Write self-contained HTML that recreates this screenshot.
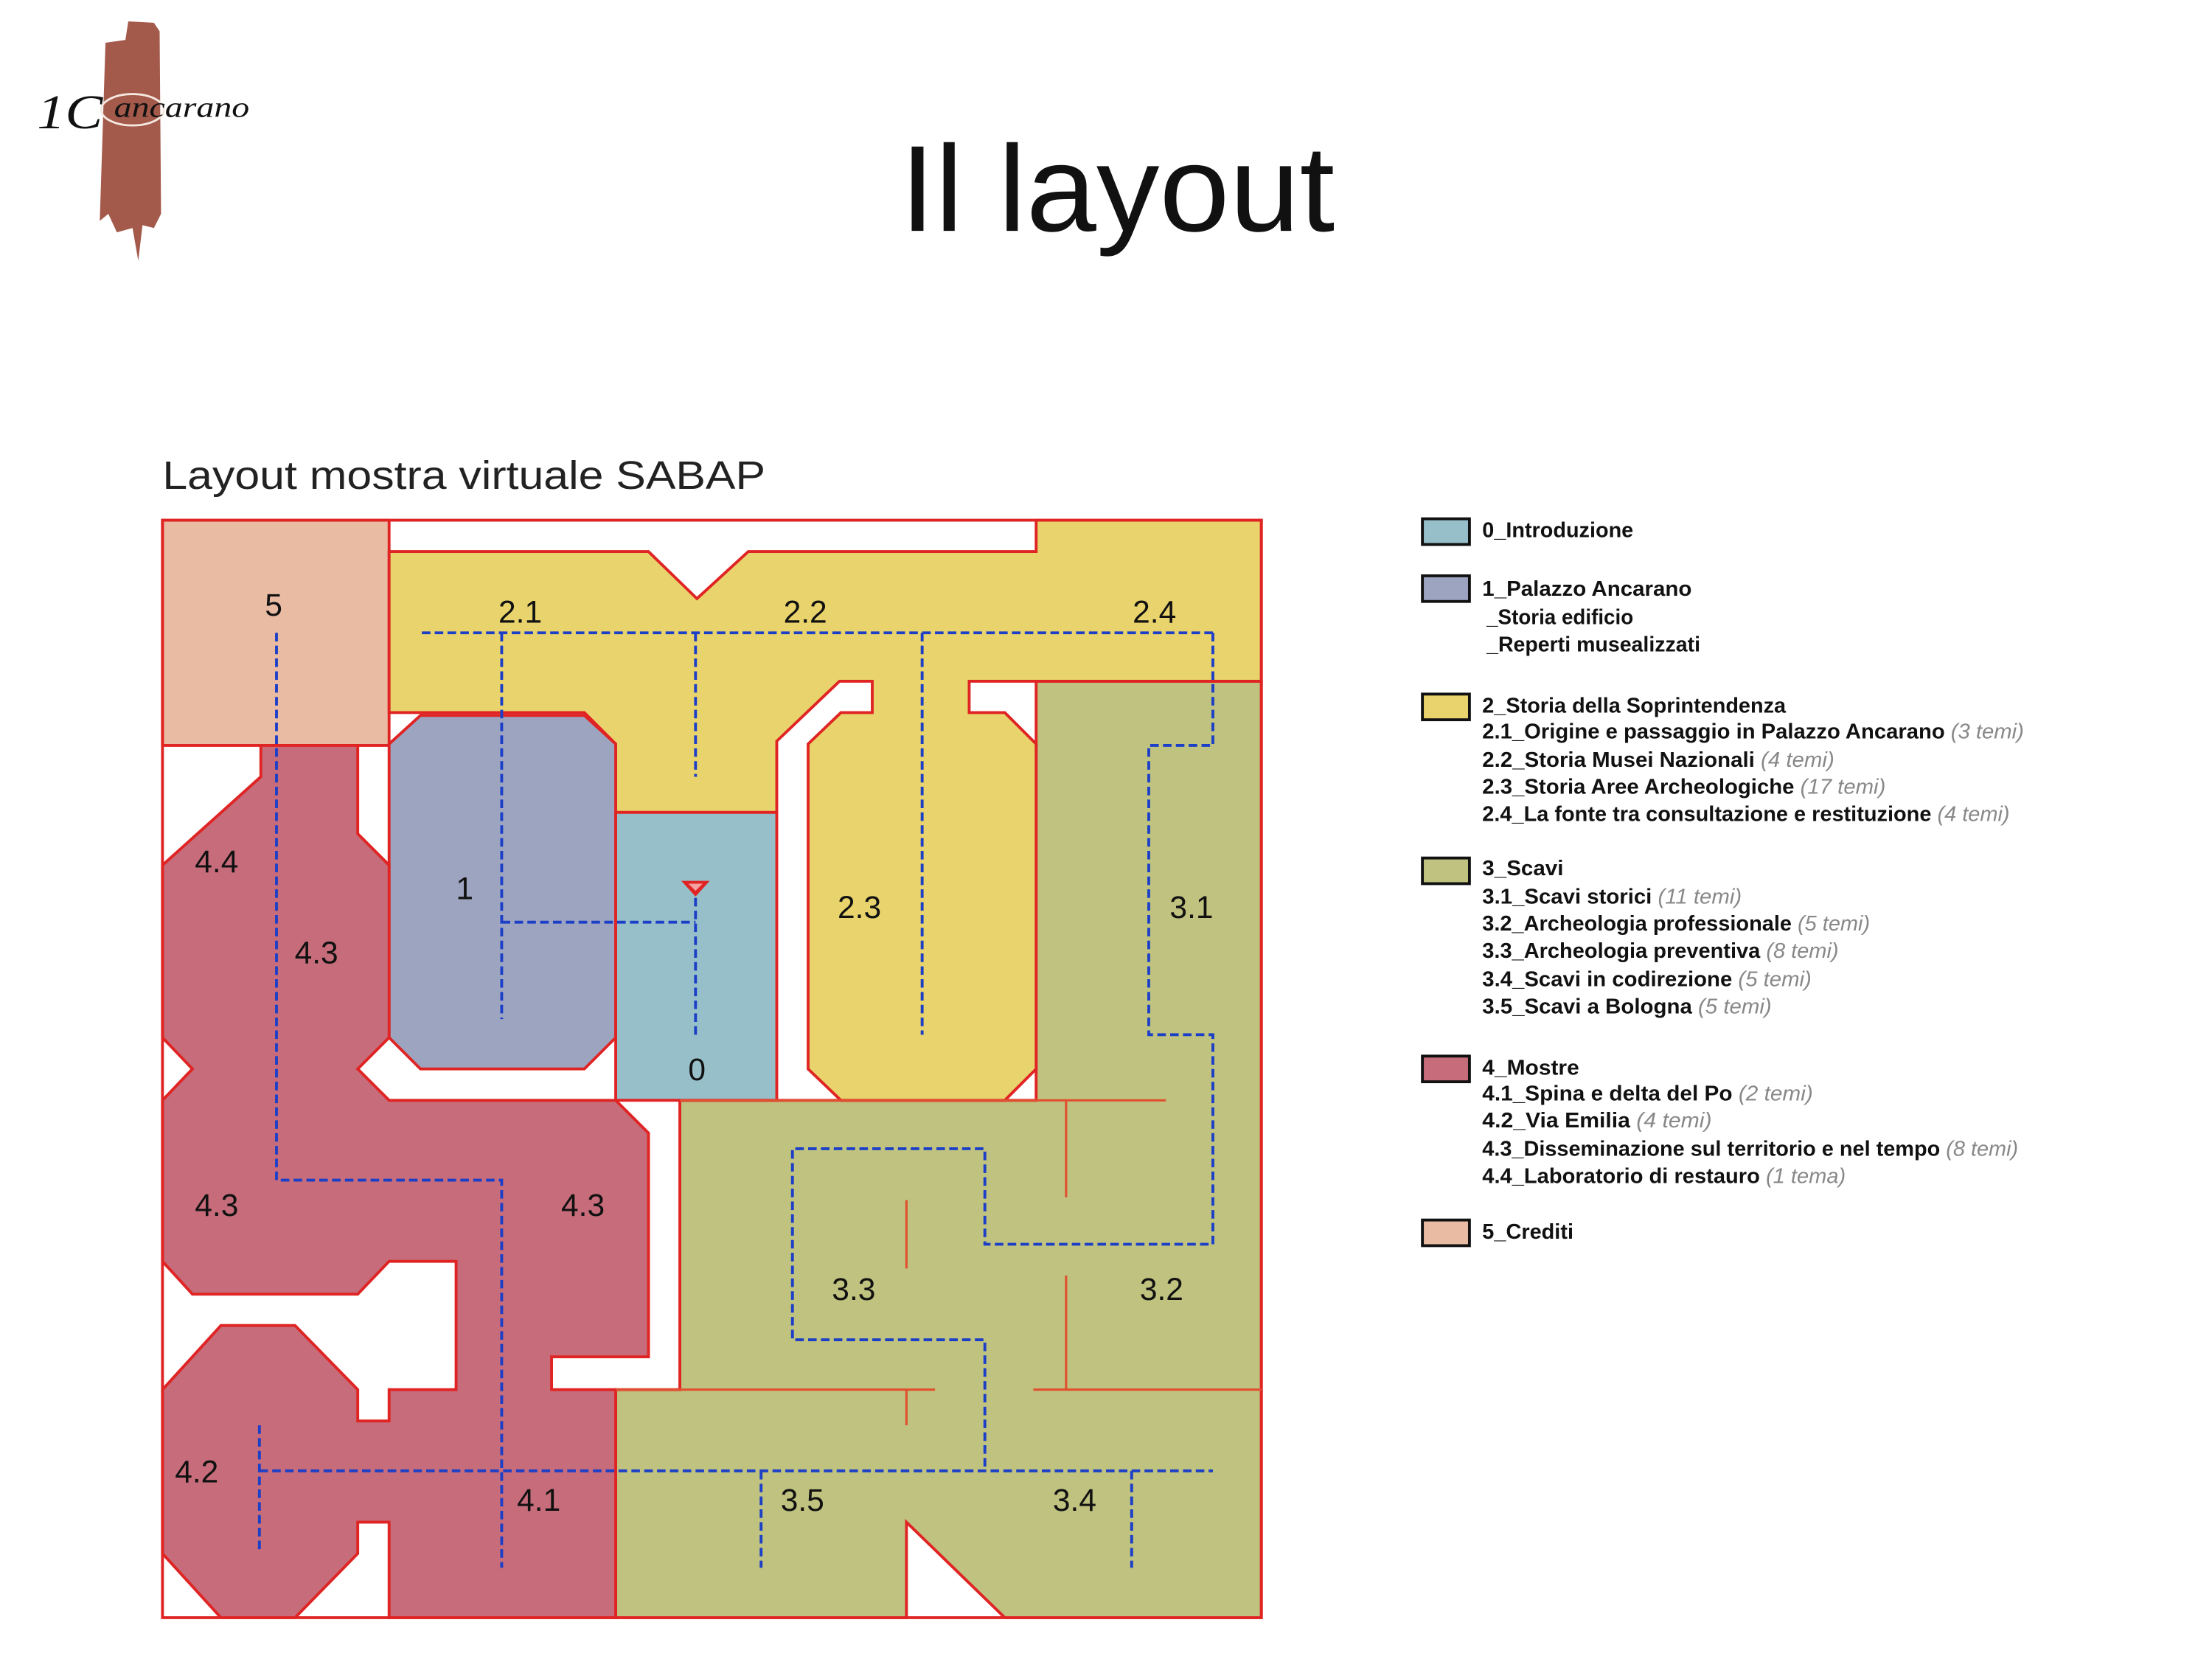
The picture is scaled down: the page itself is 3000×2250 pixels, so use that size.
<!DOCTYPE html>
<html><head><meta charset="utf-8"><style>
html,body{margin:0;padding:0;background:#fff;}
svg{display:block;}
.lbl{font-family:"Liberation Sans",Arial,sans-serif;font-size:22px;fill:#111;text-anchor:middle;}
.lg{font-family:"Liberation Sans",Arial,sans-serif;font-size:15px;fill:#111;font-weight:bold;}
.gr{fill:#888;font-style:italic;font-weight:normal;}
</style></head><body>
<svg width="3000" height="2250" viewBox="0 0 1552 1164" xmlns="http://www.w3.org/2000/svg">
<rect width="1552" height="1164" fill="#fff"/>
<!-- logo -->
<path d="M74,30 L88,28 L90,15 L108,16 L112,22 L113,150 L108,160 L100,158 L97,183 L93,160 L82,163 L76,150 L70,155 Z" fill="#a45a4b"/>
<ellipse cx="93" cy="77" rx="22" ry="11" fill="none" stroke="#f4e8e0" stroke-width="1.5"/>
<text x="26" y="90" font-family="Liberation Serif,serif" font-style="italic" font-size="34" fill="#111" textLength="46" lengthAdjust="spacingAndGlyphs">1C</text>
<text x="80" y="82" font-family="Liberation Serif,serif" font-style="italic" font-size="20" fill="#111" textLength="95" lengthAdjust="spacingAndGlyphs">ancarano</text>
<!-- title -->
<text x="784" y="162" font-family="Liberation Sans,sans-serif" font-size="86" fill="#111" text-anchor="middle" textLength="305" lengthAdjust="spacingAndGlyphs">Il layout</text>
<text x="114" y="343" font-family="Liberation Sans,sans-serif" font-size="28" fill="#222" textLength="423" lengthAdjust="spacingAndGlyphs">Layout mostra virtuale SABAP</text>

<g stroke="#e02424" stroke-width="2" stroke-linejoin="miter">
<rect x="114" y="365" width="159" height="158" fill="#e9bba3"/>
<polygon fill="#c0c27f" points="727,478 885,478 885,1135 705,1135 636,1068 636,1135 432,1135 432,975 477,975 477,772 727,772"/>
<polygon fill="#e8d36c" points="273,387 455,387 489,420 525,387 727,387 727,365 885,365 885,478 680,478 680,500 705,500 727,522 727,750 705,772 590,772 567,750 567,522 590,500 612,500 612,478 589,478 545,520 545,570 432,570 432,522 410,500 273,500"/>
<polygon fill="#9ca4c0" points="295,502 410,502 432,522 432,728 410,750 295,750 273,728 273,522"/>
<rect x="432" y="570" width="113" height="202" fill="#96bfc9"/>
<polygon fill="#c66c7a" points="183,523 251,523 251,585 273,607 273,728 251,750 273,772 432,772 455,795 455,952 387,952 387,975 432,975 432,1135 273,1135 273,1068 251,1068 251,1090 207,1135 155,1135 114,1090 114,975 155,930 207,930 251,975 251,997 273,997 273,975 320,975 320,885 273,885 251,908 135,908 114,885 114,772 135,750 114,728 114,607 183,545"/>
<rect x="114" y="365" width="771" height="770" fill="none"/>
</g>
<!-- internal olive lines -->
<g stroke="#e05030" stroke-width="1.6" fill="none">
<line x1="477" y1="772" x2="818" y2="772"/>
<line x1="748" y1="772" x2="748" y2="840"/>
<line x1="636" y1="842" x2="636" y2="890"/>
<line x1="748" y1="895" x2="748" y2="975"/>
<line x1="432" y1="975" x2="656" y2="975"/>
<line x1="725" y1="975" x2="885" y2="975"/>
<line x1="636" y1="975" x2="636" y2="1000"/>
</g>
<!-- dashed paths -->
<g stroke="#1c3fc8" stroke-width="2" fill="none" stroke-dasharray="6,3">
<line x1="296" y1="444" x2="851" y2="444"/>
<polyline points="851,444 851,523 806,523 806,726 851,726 851,873 691,873 691,806 556,806 556,940 691,940 691,1032"/>
<line x1="182" y1="1032" x2="851" y2="1032"/>
<line x1="352" y1="444" x2="352" y2="715"/>
<line x1="352" y1="647" x2="488" y2="647"/>
<line x1="488" y1="444" x2="488" y2="545"/>
<line x1="488" y1="630" x2="488" y2="726"/>
<line x1="647" y1="444" x2="647" y2="726"/>
<polyline points="194,444 194,828 352,828 352,1100"/>
<line x1="182" y1="1000" x2="182" y2="1090"/>
<line x1="534" y1="1032" x2="534" y2="1100"/>
<line x1="794" y1="1032" x2="794" y2="1100"/>
</g>
<polygon points="478,618 498,618 488,629" fill="#e02424"/>
<polygon points="483,620 493,620 488,625" fill="#f4a0a0"/>
<!-- labels -->
<g class="lbl">
<text x="192" y="432">5</text><text x="365" y="437">2.1</text><text x="565" y="437">2.2</text><text x="810" y="437">2.4</text>
<text x="152" y="612">4.4</text><text x="326" y="631">1</text><text x="222" y="676">4.3</text><text x="603" y="644">2.3</text>
<text x="836" y="644">3.1</text><text x="489" y="758">0</text><text x="152" y="853">4.3</text><text x="409" y="853">4.3</text>
<text x="599" y="912">3.3</text><text x="815" y="912">3.2</text><text x="138" y="1040">4.2</text><text x="378" y="1060">4.1</text>
<text x="563" y="1060">3.5</text><text x="754" y="1060">3.4</text>
</g>
<!-- legend -->
<g stroke="#111" stroke-width="2">
<rect x="998" y="364" width="33" height="18" fill="#96bfc9"/>
<rect x="998" y="404" width="33" height="18" fill="#9ca4c0"/>
<rect x="998" y="487" width="33" height="18" fill="#e8d36c"/>
<rect x="998" y="602" width="33" height="18" fill="#c0c27f"/>
<rect x="998" y="741" width="33" height="18" fill="#c66c7a"/>
<rect x="998" y="856" width="33" height="18" fill="#e9bba3"/>
</g>
<g class="lg">
<text x="1040" y="377" textLength="106" lengthAdjust="spacingAndGlyphs">0_Introduzione</text>
<text x="1040" y="418" textLength="147" lengthAdjust="spacingAndGlyphs">1_Palazzo Ancarano</text>
<text x="1043" y="438" textLength="103" lengthAdjust="spacingAndGlyphs">_Storia edificio</text>
<text x="1043" y="457" textLength="150" lengthAdjust="spacingAndGlyphs">_Reperti musealizzati</text>
<text x="1040" y="500" textLength="213" lengthAdjust="spacingAndGlyphs">2_Storia della Soprintendenza</text>
<text x="1040" y="518" textLength="380" lengthAdjust="spacingAndGlyphs">2.1_Origine e passaggio in Palazzo Ancarano <tspan class="gr">(3 temi)</tspan></text>
<text x="1040" y="538" textLength="247" lengthAdjust="spacingAndGlyphs">2.2_Storia Musei Nazionali <tspan class="gr">(4 temi)</tspan></text>
<text x="1040" y="557" textLength="283" lengthAdjust="spacingAndGlyphs">2.3_Storia Aree Archeologiche <tspan class="gr">(17 temi)</tspan></text>
<text x="1040" y="576" textLength="370" lengthAdjust="spacingAndGlyphs">2.4_La fonte tra consultazione e restituzione <tspan class="gr">(4 temi)</tspan></text>
<text x="1040" y="614" textLength="57" lengthAdjust="spacingAndGlyphs">3_Scavi</text>
<text x="1040" y="634" textLength="182" lengthAdjust="spacingAndGlyphs">3.1_Scavi storici <tspan class="gr">(11 temi)</tspan></text>
<text x="1040" y="653" textLength="272" lengthAdjust="spacingAndGlyphs">3.2_Archeologia professionale <tspan class="gr">(5 temi)</tspan></text>
<text x="1040" y="672" textLength="250" lengthAdjust="spacingAndGlyphs">3.3_Archeologia preventiva <tspan class="gr">(8 temi)</tspan></text>
<text x="1040" y="692" textLength="231" lengthAdjust="spacingAndGlyphs">3.4_Scavi in codirezione <tspan class="gr">(5 temi)</tspan></text>
<text x="1040" y="711" textLength="203" lengthAdjust="spacingAndGlyphs">3.5_Scavi a Bologna <tspan class="gr">(5 temi)</tspan></text>
<text x="1040" y="754" textLength="68" lengthAdjust="spacingAndGlyphs">4_Mostre</text>
<text x="1040" y="772" textLength="232" lengthAdjust="spacingAndGlyphs">4.1_Spina e delta del Po <tspan class="gr">(2 temi)</tspan></text>
<text x="1040" y="791" textLength="161" lengthAdjust="spacingAndGlyphs">4.2_Via Emilia <tspan class="gr">(4 temi)</tspan></text>
<text x="1040" y="811" textLength="376" lengthAdjust="spacingAndGlyphs">4.3_Disseminazione sul territorio e nel tempo <tspan class="gr">(8 temi)</tspan></text>
<text x="1040" y="830" textLength="255" lengthAdjust="spacingAndGlyphs">4.4_Laboratorio di restauro <tspan class="gr">(1 tema)</tspan></text>
<text x="1040" y="869" textLength="64" lengthAdjust="spacingAndGlyphs">5_Crediti</text>
</g>
</svg>
</body></html>
